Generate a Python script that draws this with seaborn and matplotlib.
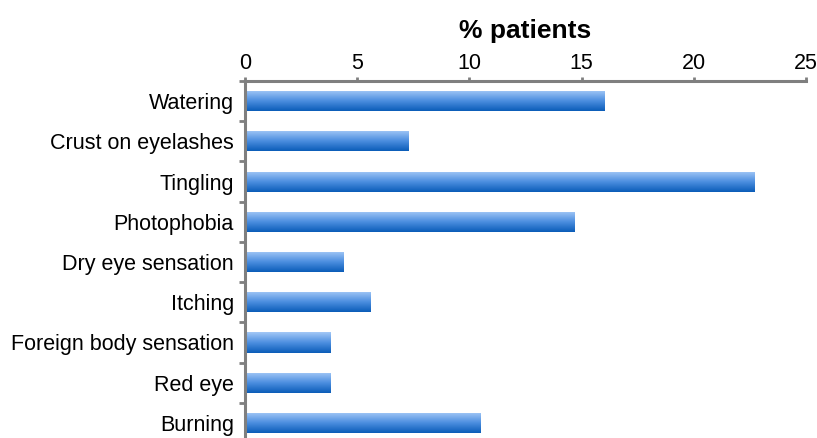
import numpy as np
import pandas as pd
import matplotlib
matplotlib.use("Agg")
import matplotlib.pyplot as plt
import seaborn as sns
from matplotlib.colors import LinearSegmentedColormap

categories = ["Watering", "Crust on eyelashes", "Tingling", "Photophobia",
              "Dry eye sensation", "Itching", "Foreign body sensation",
              "Red eye", "Burning"]
values = [16.0, 7.3, 22.7, 14.7, 4.4, 5.6, 3.8, 3.8, 10.5]
x_ticks = [0, 5, 10, 15, 20, 25]
title = "% patients"

sns.set_theme(style="white")
plt.rcParams['font.family'] = ['Liberation Sans', 'DejaVu Sans']
plt.rcParams['text.color'] = 'black'
plt.rcParams['xtick.labelcolor'] = 'black'
plt.rcParams['ytick.labelcolor'] = 'black'

df = pd.DataFrame({"cat": categories, "val": values})

fig = plt.figure(figsize=(8.17, 4.38), dpi=100)
W, H = 817, 438
left, right, top, bottom = 245, 806, 81, 443
ax = fig.add_axes([left / W, (H - bottom) / H, (right - left) / W, (bottom - top) / H])

sns.barplot(data=df, x="val", y="cat", orient="h", width=0.5,
            color="#3a7fd5", ax=ax, edgecolor="none")

# gradient fill on each bar
cmap = LinearSegmentedColormap.from_list("g", ["#0a5cb8", "#4d8fe0", "#a3c8f7"])
grad = np.linspace(0, 1, 256).reshape(-1, 1)
for p in list(ax.patches):
    x0, y0 = p.get_x(), p.get_y()
    w, h = p.get_width(), p.get_height()
    im = ax.imshow(grad, extent=[x0, x0 + w, y0 + h, y0], origin="lower",
                   aspect="auto", cmap=cmap, zorder=p.get_zorder() + 0.1)
    im.set_clip_path(p)
    p.set_facecolor("none")

ax.set_xlim(0, 25)
ax.set_ylim(len(categories) - 0.5, -0.5)
ax.set_xticks(x_ticks)
ax.xaxis.tick_top()
ax.xaxis.set_label_position("top")
ax.set_xlabel(title, fontsize=19, fontweight="bold", labelpad=11, color="black")
ax.set_ylabel("")
ax.tick_params(axis="x", labelsize=15.5, direction="out", length=3, width=2,
               color="#7f7f7f", pad=2, top=True, bottom=False, labelcolor="black")
ax.set_yticks(range(len(categories)))
ax.set_yticklabels(categories)
ax.set_yticks(np.arange(-0.5, len(categories), 1), minor=True)
ax.tick_params(axis="y", which="major", labelsize=15.5, length=0, pad=8,
               labelcolor="black")
ax.tick_params(axis="y", which="minor", direction="out", length=4, width=2,
               color="#7f7f7f", left=True)

for s in ["right", "bottom"]:
    ax.spines[s].set_visible(False)
for s in ["left", "top"]:
    ax.spines[s].set_color("#7f7f7f")
    ax.spines[s].set_linewidth(2.2)

fig.savefig("out.png", dpi=100)
